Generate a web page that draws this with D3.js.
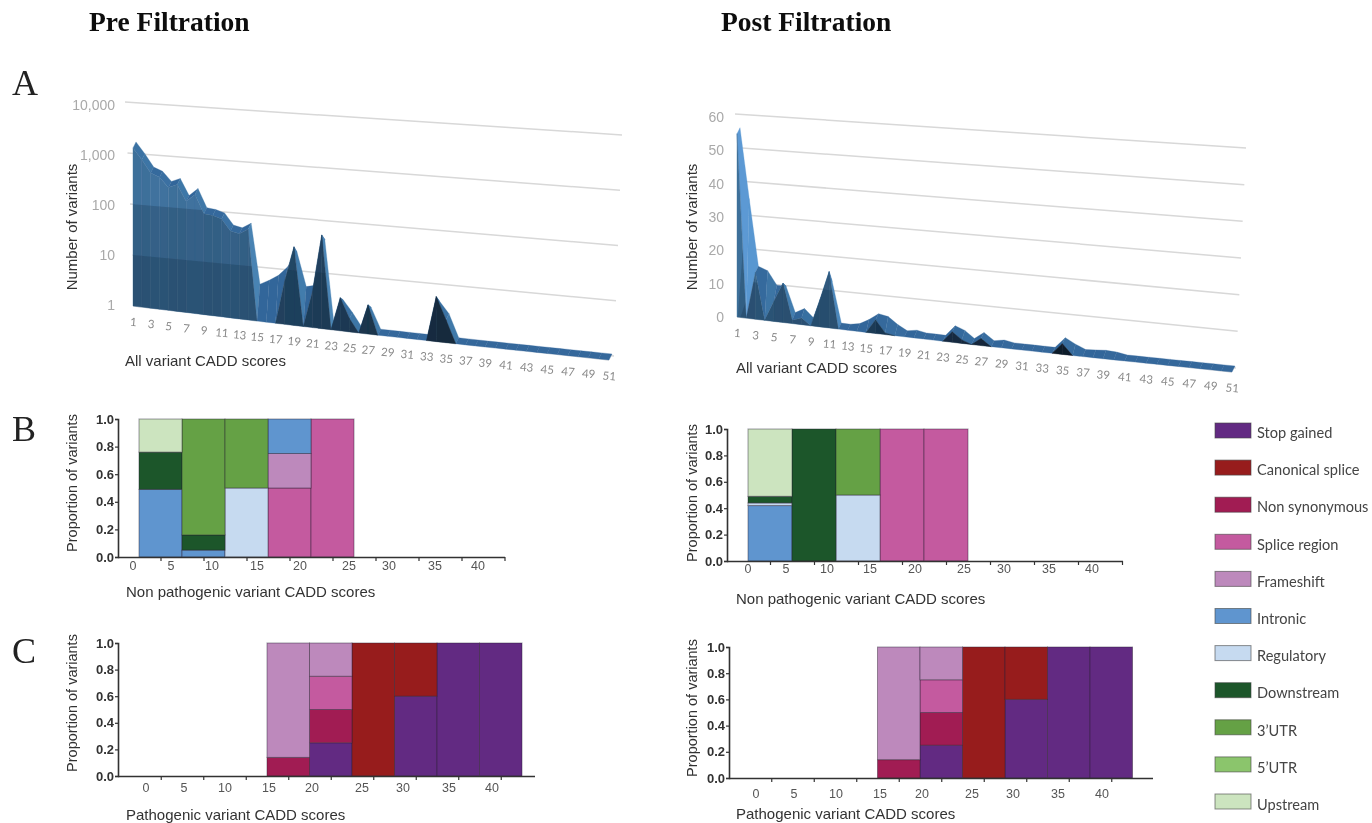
<!DOCTYPE html>
<html>
<head>
<meta charset="utf-8">
<script src="https://cdn.jsdelivr.net/npm/d3@7"></script>
<style>
	body { margin: 0; background: #fff; }
	text { font-family: "Liberation Sans", Arial, sans-serif; }
</style>
</head>
<body>
<script>
// CADD score values 1..51
var scores = d3.range(1, 52);
var scoreLabels = scores.filter(function(d) { return d % 2 == 1; });

// panel A, profile on the front of the area and profile on its back edge
var preFront = [1450,870,490,420,275,325,156,222,97,93,83,50,46,59,1,1,1,7,33,1,5,63,1,4.3,1.8,1,3.6,1,1,1,1,1,1,7,2.7,1,1,1,1,1,1,1,1,1,1,1,1,1,1,1,1];
var preBack = [1450,870,490,420,275,325,156,222,97,93,83,50,46,59,4,5,6.5,10,20,4.5,5,40,1,3,1.8,1,2.5,1,1,1,1,1,1,4.5,2.7,1,1,1,1,1,1,1,1,1,1,1,1,1,1,1,1];
var postFront = [55,0,14,0,6,11.7,1,2,0,8,16.6,0,0,0,0,4,0.5,0,0,0,0,0,0,3,1,0,2,0,0,0,0,0,0,0,3,0,0,0,0,0,0,0,0,0,0,0,0,0,0,0,0];
var postBack = [55,34,14,13,9,9,1.5,3,0.5,8,12,0,0,0.5,2,4,3.5,1.5,0,0.5,0,0,0,3,2,0,2,0,0.5,0,0,0,0,0,3,1.5,0.3,0.5,0.7,0.5,0,0,0,0,0,0,0,0,0,0,0];
var preTicks = [1, 10, 100, 1000, 10000];
var postTicks = [0, 10, 20, 30, 40, 50, 60];

// panels B and C
var consequences = ["Stop gained", "Canonical splice", "Non synonymous", "Splice region", "Frameshift", "Intronic", "Regulatory", "Downstream", "3\u2019UTR", "5\u2019UTR", "Upstream"];
var consequenceColors = ["#622a82", "#971c1f", "#a11a52", "#c45a9f", "#bd89bc", "#5f95cf", "#c6daf0", "#1a562a", "#65a144", "#8bc56c", "#cce4bf"];
var binLabels = [0, 5, 10, 15, 20, 25, 30, 35, 40];
var proportionTicks = [0, 0.2, 0.4, 0.6, 0.8, 1];

// one row per bin, same order as consequences
var preNonPath = [
	[0,0,0,0,0,0.49,0,0.27,0,0,0.24],
	[0,0,0,0,0,0.05,0,0.11,0.84,0,0],
	[0,0,0,0,0,0,0.5,0,0.5,0,0],
	[0,0,0,0.5,0.25,0.25,0,0,0,0,0],
	[0,0,0,1,0,0,0,0,0,0,0]
];
var postNonPath = [
	[0,0,0,0,0,0.42,0.02,0.05,0,0,0.51],
	[0,0,0,0,0,0,0,1,0,0,0],
	[0,0,0,0,0,0,0.5,0,0.5,0,0],
	[0,0,0,1,0,0,0,0,0,0,0],
	[0,0,0,1,0,0,0,0,0,0,0]
];
var pathogenic = [
	[0,0,0,0,0,0,0,0,0,0,0],
	[0,0,0,0,0,0,0,0,0,0,0],
	[0,0,0,0,0,0,0,0,0,0,0],
	[0,0,0.14,0,0.86,0,0,0,0,0,0],
	[0.25,0,0.25,0.25,0.25,0,0,0,0,0,0],
	[0,1,0,0,0,0,0,0,0,0,0],
	[0.6,0.4,0,0,0,0,0,0,0,0,0],
	[1,0,0,0,0,0,0,0,0,0,0],
	[1,0,0,0,0,0,0,0,0,0,0]
];

var svg = d3.select("body").append("svg")
	.attr("width", 1372)
	.attr("height", 823);

svg.append("defs").append("filter")
	.attr("id", "soft")
	.append("feGaussianBlur")
	.attr("stdDeviation", 0.55);

var chart = svg.append("g").attr("filter", "url(#soft)");

function addText(parent, x, y, text, size, family, color, weight, anchor, rotate) {
	var t = parent.append("text")
		.attr("x", x)
		.attr("y", y)
		.text(text)
		.style("font-size", size + "px")
		.style("fill", color)
		.attr("text-anchor", anchor || "start");
	if (family) t.style("font-family", family);
	if (weight) t.style("font-weight", weight);
	if (rotate) t.attr("transform", "rotate(" + rotate + "," + x + "," + y + ")");
	return t;
}

// area chart with some depth, the way the spreadsheet draws it
function drawArea3d(cfg) {
	var g = chart.append("g");
	var x = d3.scaleLinear().domain([1, 15, 27, 39, 51]).range(cfg.xRange);
	var base = d3.scaleLinear().domain([1, 51]).range(cfg.baseRange);
	var persp = d3.scaleLinear().domain([1, 51]).range([1, 1.1]);
	var depth = {x: 3, y: -6};

	function front(i) {
		return [x(i), base(i) - cfg.height(cfg.front[i - 1]) * persp(i)];
	}
	function back(i) {
		return [x(i) + depth.x, base(i) - cfg.height(cfg.back[i - 1]) * persp(i) + depth.y];
	}
	function floor(i) {
		return [x(i), base(i)];
	}
	function poly(pts) {
		return d3.line()(pts) + "Z";
	}
	function faceFill(i) {
		return Math.floor((i + 1) / 2) % 2 == 0 ? d3.color(cfg.faceColor(i)).brighter(0.08).formatHex() : cfg.faceColor(i);
	}

	// grid on the back wall
	g.selectAll(".grid").data(cfg.ticks).enter().append("line")
		.attr("x1", cfg.startX).attr("y1", cfg.startY)
		.attr("x2", cfg.endX).attr("y2", cfg.endY)
		.style("stroke", "#d8d8d8")
		.style("stroke-width", 1.5);
	g.append("line")
		.attr("x1", x(1)).attr("y1", base(1))
		.attr("x2", x(51)).attr("y2", base(51))
		.style("stroke", "#dddddd")
		.style("stroke-width", 1.5);

	// top surface, lighter where it runs down
	var slopeColor = d3.scaleLinear().domain([0, 2, 8]).range(["#33669a", "#3f78a8", cfg.lightColor]).clamp(true);
	var segments = scores.slice(0, 50);
	g.selectAll(".top").data(segments).enter().append("path")
		.attr("d", function(i) { return poly([front(i), front(i + 1), back(i + 1), back(i)]); })
		.style("fill", function(i) { return slopeColor((back(i + 1)[1] - back(i)[1]) / (x(i + 1) - x(i))); })
		.style("stroke", function(i) { return slopeColor((back(i + 1)[1] - back(i)[1]) / (x(i + 1) - x(i))); })
		.style("stroke-width", 0.3);

	// front face, nothing to draw where the area sits on the floor
	var clipId = cfg.name + "Clip";
	var frontOutline = scores.map(front).concat(scores.slice().reverse().map(floor));
	svg.select("defs").append("clipPath").attr("id", clipId)
		.append("path").attr("d", poly(frontOutline));

	var raised = segments.filter(function(i) {
		return cfg.height(cfg.front[i - 1]) > 0 || cfg.height(cfg.front[i]) > 0;
	});
	g.selectAll(".face").data(raised).enter().append("path")
		.attr("d", function(i) { return poly([floor(i), front(i), front(i + 1), floor(i + 1)]); })
		.style("fill", faceFill)
		.style("stroke", faceFill)
		.style("stroke-width", 0.4);

	// darker bands under the wall lines
	var bands = g.append("g").attr("clip-path", "url(#" + clipId + ")");
	bands.selectAll("path").data(cfg.bands).enter().append("path")
		.attr("d", function(v) {
			return poly([[cfg.startX(v), cfg.startY(v)], [cfg.endX(v), cfg.endY(v)], [x(51), base(51) + 10], [x(1), base(1) + 10]]);
		})
		.style("fill", "#10283f")
		.style("fill-opacity", 0.24);

	// axis text
	cfg.ticks.forEach(function(v) {
		addText(g, cfg.labelX, cfg.labelY(v) + 5, cfg.format(v), 14, null, "#a9a9a9", null, "end");
	});
	scoreLabels.forEach(function(i) {
		addText(g, x(i), base(i) + 20, i, 11.5, "Lato, sans-serif", "#8a8a8a", null, "middle", 5);
	});
	addText(g, cfg.titleYX, cfg.yTitleY, "Number of variants", 15, null, "#333", null, "middle", -90);
	addText(g, cfg.titleX, cfg.xTitleY, "All variant CADD scores", 15, null, "#333");
}

// stacked proportion bars
function drawStacked(cfg) {
	var g = chart.append("g");
	var rows = cfg.rows.map(function(row) {
		var o = {};
		consequences.forEach(function(c, k) { o[c] = row[k]; });
		return o;
	});
	var layers = d3.stack().keys(consequences)(rows);

	var bins = d3.range(cfg.binCount);
	var x = d3.scaleBand().domain(bins).range([cfg.barStart, cfg.barStart + cfg.binWidth * cfg.binCount]);
	var y = d3.scaleLinear().domain([0, 1]).range([cfg.bottom, cfg.top]);
	var label = d3.scaleLinear().domain(binLabels).range(cfg.labelRange);
	var color = d3.scaleOrdinal().domain(consequences).range(consequenceColors);

	layers.forEach(function(layer) {
		g.append("g").selectAll("rect")
			.data(layer.filter(function(d) { return d[1] > d[0]; }))
			.enter().append("rect")
			.attr("x", function(d) { return x(layer.indexOf(d)); })
			.attr("y", function(d) { return y(d[1]); })
			.attr("width", x.bandwidth())
			.attr("height", function(d) { return y(d[0]) - y(d[1]); })
			.style("fill", color(layer.key))
			.style("stroke", "#2a2030")
			.style("stroke-opacity", 0.45)
			.style("stroke-width", 1);
	});

	// y axis
	var yAxis = g.append("g")
		.attr("transform", "translate(" + cfg.axisX + ",0)")
		.call(d3.axisLeft(y).tickValues(proportionTicks).tickFormat(d3.format(".1f")).tickSize(3).tickPadding(1));
	yAxis.selectAll("text")
		.style("font-size", "13px").style("font-weight", "bold").style("fill", "#333");

	// x axis: ticks at the bin centres, numbers are placed on their own
	var tickScale = d3.scaleLinear().domain([0, 8]).range([cfg.barStart + cfg.binWidth / 2, cfg.barStart + cfg.binWidth * 8.5]);
	var xAxis = g.append("g")
		.attr("transform", "translate(0," + cfg.bottom + ")")
		.call(d3.axisBottom(tickScale).tickValues(d3.range(0, 9)).tickFormat("").tickSize(4));
	xAxis.select(".domain").attr("d", "M" + cfg.axisX + ",0.5H" + cfg.axisEnd);
	g.selectAll(".domain").style("stroke", "#333").style("stroke-width", 1.6);
	g.selectAll(".tick line").style("stroke", "#333").style("stroke-width", 1.2);

	binLabels.forEach(function(v) {
		addText(g, label(v), cfg.labelY, v, 12.5, null, "#555", null, "middle");
	});

	addText(g, cfg.yTitleX, cfg.yTitleY, "Proportion of variants", 14.5, null, "#333", null, "middle", -90);
	addText(g, cfg.titleX, cfg.xTitleY, cfg.title, 15, null, "#333");
}

function drawLegend() {
	var g = chart.append("g");
	var boxY = d3.scaleLinear().domain([0, 10]).range([423, 794]);
	var textY = d3.scaleLinear().domain([0, 10]).range([438, 810]);
	g.selectAll("rect").data(consequences).enter().append("rect")
		.attr("x", 1215)
		.attr("y", function(d, k) { return boxY(k); })
		.attr("width", 36)
		.attr("height", 15)
		.style("fill", function(d, k) { return consequenceColors[k]; })
		.style("stroke", "#444")
		.style("stroke-opacity", 0.6)
		.style("stroke-width", 1);
	consequences.forEach(function(c, k) {
		addText(g, 1257, textY(k), c, 14.6, "Lato, sans-serif", "#444");
	});
}

drawArea3d({
	name: "pre",
	front: preFront,
	back: preBack,
	ticks: preTicks,
	bands: [100, 10],
	height: d3.scaleLog().domain([1, 10000]).range([0, 200]),
	xRange: [133, 257, 368, 485, 609],
	baseRange: [306, 360],
	startX: d3.scaleLog().domain([1, 10000]).range([135, 125]),
	startY: d3.scaleLog().domain([1, 10000]).range([306, 102]),
	endX: d3.scaleLog().domain([1, 10000]).range([614, 622]),
	endY: d3.scaleLog().domain([1, 10000]).range([356, 135]),
	labelX: 115,
	labelY: d3.scaleLog().domain([1, 10000]).range([305, 105]),
	format: d3.format(","),
	faceColor: d3.scaleLinear().domain([1, 15, 17, 34]).range(["#3e6f9a", "#3e6f9a", "#2c5274", "#172b40"]),
	lightColor: "#4c86b6",
	titleX: 125,
	titleYX: 77,
	yTitleY: 227,
	xTitleY: 366
});

drawArea3d({
	name: "post",
	front: postFront,
	back: postBack,
	ticks: postTicks,
	bands: [30, 10],
	height: d3.scaleLinear().domain([0, 60]).range([0, 200]),
	xRange: [737, 866, 981, 1103, 1232],
	baseRange: [317, 372],
	startX: d3.scaleLinear().domain([0, 60]).range([756, 735]),
	startY: d3.scaleLinear().domain([0, 60]).range([316, 114]),
	endX: d3.scaleLinear().domain([0, 60]).range([1236, 1246]),
	endY: d3.scaleLinear().domain([0, 60]).range([368, 148]),
	labelX: 724,
	labelY: d3.scaleLinear().domain([0, 60]).range([317, 117]),
	format: d3.format("d"),
	faceColor: d3.scaleLinear().domain([1, 11, 16, 24]).range(["#3e6f9a", "#3a6890", "#1f3f5c", "#172b40"]),
	lightColor: "#5c9bd6",
	titleX: 736,
	titleYX: 697,
	yTitleY: 227,
	xTitleY: 373
});

drawStacked({
	rows: preNonPath, binCount: 5, barStart: 139, binWidth: 43,
	top: 419, bottom: 557, axisX: 118, axisEnd: 505,
	labelRange: [133, 171, 212, 257, 300, 349, 389, 435, 478], labelY: 570,
	title: "Non pathogenic variant CADD scores", titleX: 126, xTitleY: 597, yTitleX: 77, yTitleY: 483
});
drawStacked({
	rows: postNonPath, binCount: 5, barStart: 748, binWidth: 44,
	top: 429, bottom: 561, axisX: 727, axisEnd: 1123,
	labelRange: [748, 786, 827, 870, 915, 964, 1004, 1049, 1092], labelY: 573,
	title: "Non pathogenic variant CADD scores", titleX: 736, xTitleY: 604, yTitleX: 697, yTitleY: 493
});
drawStacked({
	rows: pathogenic, binCount: 9, barStart: 139.5, binWidth: 42.5,
	top: 643, bottom: 776, axisX: 118, axisEnd: 535,
	labelRange: [146, 184, 225, 269, 312, 362, 403, 449, 492], labelY: 792,
	title: "Pathogenic variant CADD scores", titleX: 126, xTitleY: 820, yTitleX: 77, yTitleY: 703
});
drawStacked({
	rows: pathogenic, binCount: 9, barStart: 750, binWidth: 42.5,
	top: 647, bottom: 778, axisX: 729, axisEnd: 1153,
	labelRange: [756, 794, 836, 880, 922, 972, 1013, 1058, 1102], labelY: 798,
	title: "Pathogenic variant CADD scores", titleX: 736, xTitleY: 819, yTitleX: 697, yTitleY: 708
});

drawLegend();

// headings and panel letters
var serif = '"Liberation Serif", "Times New Roman", serif';
addText(chart, 89, 31, "Pre Filtration", 27.5, serif, "#111", "bold");
addText(chart, 721, 31, "Post Filtration", 27.5, serif, "#111", "bold");
addText(chart, 12, 95, "A", 36, serif, "#222");
addText(chart, 12, 441, "B", 36, serif, "#222");
addText(chart, 12, 663, "C", 36, serif, "#222");
</script>
</body>
</html>
